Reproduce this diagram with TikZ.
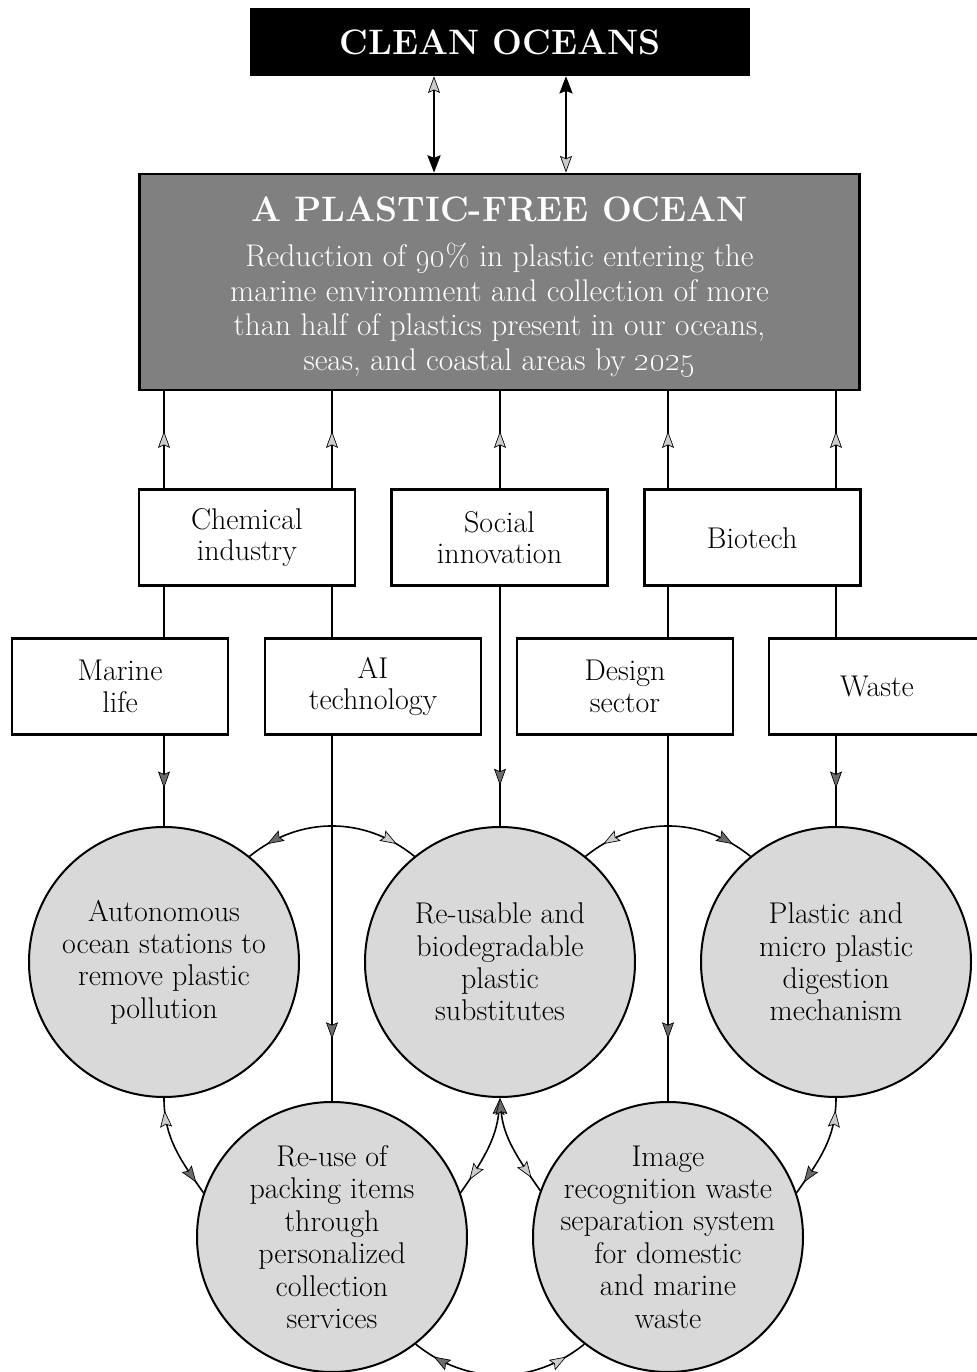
\documentclass[tikz,border=0pt]{standalone}
\usepackage{xcolor}
\usepackage{tikz}
\usetikzlibrary{arrows.meta,decorations.markings,positioning}

\definecolor{goalgray}{gray}{0.5}
\definecolor{ideagray}{gray}{0.85}
\definecolor{headlight}{gray}{0.8}
\definecolor{headdark}{gray}{0.42}

\tikzset{
    lhead/.tip={Stealth[length=12.5pt, width=9pt, inset=2pt, line width=0.5pt, fill=headlight]},
    dhead/.tip={Stealth[length=12.5pt, width=9pt, inset=2pt, line width=0.5pt, fill=headdark]},
    bhead/.tip={Stealth[length=13pt, width=10pt, inset=2pt, line width=0.5pt, fill=black]}
}

\begin{document}
\begin{tikzpicture}[
    x=0.75pt, y=0.75pt,
    topbox/.style={rectangle, fill=black, text=white, minimum width=375pt, minimum height=51pt, font=\fontsize{26.5}{30}\selectfont\bfseries},
    goalbox/.style={rectangle, draw, line width=2.2pt, fill=goalgray, text=white, minimum width=540pt, minimum height=162pt, align=center, inner sep=0pt, font=\fontsize{23.5}{26}\selectfont},
    sector/.style={rectangle, draw, line width=2pt, fill=white, minimum width=162pt, minimum height=72pt, align=center, font=\fontsize{22.5}{23.5}\selectfont},
    idea/.style={circle, draw, line width=1.5pt, fill=ideagray, minimum size=202.5pt, inner sep=-20pt, align=center, font=\fontsize{22.5}{24.3}\selectfont},
    feedup/.style={line width=#1, postaction={decorate, decoration={markings, mark=at position 0.59 with {\arrow{lhead}}}}},
    feeddown/.style 2 args={line width=#1, postaction={decorate, decoration={markings, mark=at position #2 with {\arrow{dhead}}}}},
    twoway/.style n args={2}{line width=1.2pt, postaction={decorate, decoration={markings, mark=at position 0.12 with {\arrowreversed{#1}}, mark=at position 0.88 with {\arrow{#2}}}}}
]
\useasboundingbox (0,0) rectangle (976,1372);

% Vision and goal
\node[topbox] (clean) at (500,1330) {CLEAN OCEANS};
\node[goalbox] (goal) at (499.5,1090) {{\fontsize{26.5}{30}\selectfont\bfseries\rule{0pt}{26pt}A PLASTIC-FREE OCEAN}\\[7.5pt]
    Reduction of \oldstylenums{90}\% in plastic entering the\\
    marine environment and collection of more\\
    than half of plastics present in our oceans,\\
    seas, and coastal areas by \oldstylenums{2025}};

% Sectors
\node[sector, below=72.75pt of goal] (social) {Social\\innovation};
\node[sector, left=25.5pt of social] (chem) {Chemical\\industry};
\node[sector, right=25.5pt of social] (biotech) {Biotech};
\node[sector] (marine) at (120,685.5) {Marine\\life};
\node[sector] (ai) at (373,685.5) {AI\\technology};
\node[sector] (design) at (625,685.5) {Design\\sector};
\node[sector] (waste) at (877,685.5) {Waste};

% Solutions
\node[idea] (auto) at (164,410) {Autonomous\\ocean stations to\\remove plastic\\pollution};
\node[idea] (subst) at (500,410) {Re-usable and\\biodegradable\\plastic\\substitutes};
\node[idea] (digest) at (836,410) {Plastic and\\micro plastic\\digestion\\mechanism};
\node[idea] (packing) at (332,135) {Re-use of\\packing items\\through\\personalized\\collection\\services};
\node[idea] (imgrec) at (668,135) {Image\\recognition waste\\separation system\\for domestic\\and marine\\waste};

% Columns
\coordinate (ka) at (434,0);
\coordinate (kb) at (566,0);
\coordinate (k1) at (164,0);
\coordinate (k2) at (332,0);
\coordinate (k3) at (500,0);
\coordinate (k4) at (668,0);
\coordinate (k5) at (836,0);

% Arrows
\draw[line width=2.2pt, {bhead}-{lhead}] (goal.north -| ka) -- (clean.south -| ka);
\draw[line width=1.3pt, {lhead}-{bhead}] (goal.north -| kb) -- (clean.south -| kb);

\draw[feedup=1.2pt] (chem.north -| k1) -- (goal.south -| k1);
\draw[feedup=2pt] (chem.north -| k2) -- (goal.south -| k2);
\draw[feedup=1.6pt] (social.north -| k3) -- (goal.south -| k3);
\draw[feedup=1.8pt] (biotech.north -| k4) -- (goal.south -| k4);
\draw[feedup=1.4pt] (biotech.north -| k5) -- (goal.south -| k5);

\draw[line width=1.4pt] (chem.south -| k1) -- (marine.north -| k1);
\draw[line width=2pt] (chem.south -| k2) -- (ai.north -| k2);
\draw[line width=2pt] (biotech.south -| k4) -- (design.north -| k4);
\draw[line width=1.6pt] (biotech.south -| k5) -- (waste.north -| k5);

\draw[feeddown={1.4pt}{0.58}] (marine.south -| k1) -- (auto.north);
\draw[feeddown={2pt}{0.83}] (ai.south -| k2) -- (packing.north);
\draw[feeddown={1.4pt}{0.83}] (social.south -| k3) -- (subst.north);
\draw[feeddown={2pt}{0.83}] (design.south -| k4) -- (imgrec.north);
\draw[feeddown={1.4pt}{0.58}] (waste.south -| k5) -- (digest.north);

\draw[twoway={dhead}{lhead}] (auto.51) to[out=39, in=141] (subst.129);
\draw[twoway={lhead}{dhead}] (subst.51) to[out=39, in=141] (digest.129);
\draw[twoway={lhead}{dhead}] (auto.south) to[out=-90, in=125] (packing.161);
\draw[twoway={lhead}{dhead}] (digest.south) to[out=-90, in=55] (imgrec.19);
\draw[twoway={dhead}{lhead}] (packing.-52) to[out=-39, in=-141] (imgrec.232);
\draw[line width=1.2pt, {dhead}-, postaction={decorate, decoration={markings, mark=at position 0.85 with {\arrow{lhead}}}}] (subst.south) to[out=-95, in=55] (packing.19);
\draw[line width=1.2pt, {dhead}-, postaction={decorate, decoration={markings, mark=at position 0.85 with {\arrow{lhead}}}}] (subst.south) to[out=-85, in=125] (imgrec.160);

\end{tikzpicture}
\end{document}
